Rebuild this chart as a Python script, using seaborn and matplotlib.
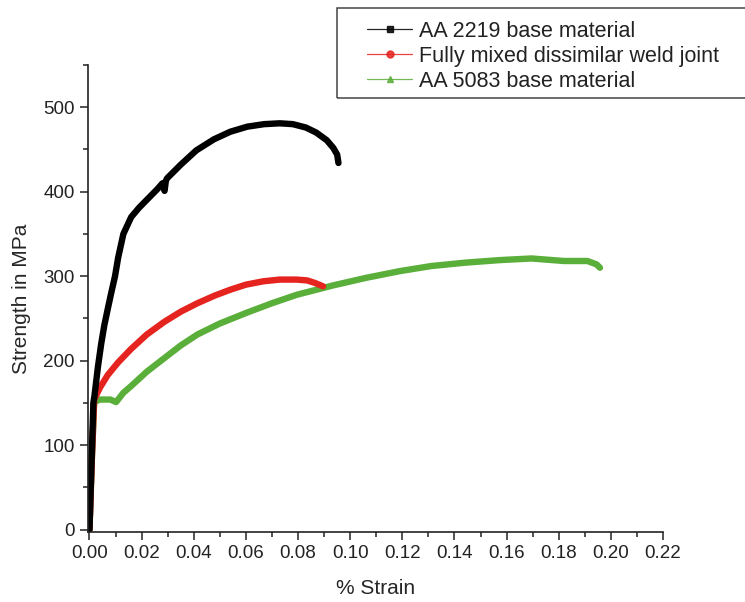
import numpy as np
import pandas as pd
import matplotlib
matplotlib.use("Agg")
import matplotlib.pyplot as plt
from matplotlib.lines import Line2D
from matplotlib.patches import Rectangle
from matplotlib.ticker import MultipleLocator
import seaborn as sns

# ================================
# Data
# ================================

strain_2219 = [0.0, 0.0008, 0.0015, 0.0019, 0.0033, 0.0045, 0.0057, 0.0072, 0.0084, 0.0098,
               0.011, 0.013, 0.016, 0.019, 0.0225, 0.026, 0.028, 0.0288, 0.0293, 0.0298,
               0.035, 0.041, 0.0477, 0.054, 0.0605, 0.067, 0.073, 0.078, 0.083, 0.087,
               0.091, 0.0935, 0.095, 0.0955]
stress_2219 = [0, 80, 150, 158, 194, 220, 242, 264, 281, 300,
               322, 350, 370, 381, 392, 403, 410, 401, 413, 416,
               432, 449, 462, 471, 477, 480, 481, 480, 476, 470,
               461, 452, 444, 434]

strain_weld = [0.0, 0.0008, 0.0018, 0.004, 0.007, 0.011, 0.016, 0.022, 0.0287, 0.035,
               0.0414, 0.048, 0.054, 0.06, 0.0667, 0.073, 0.0795, 0.0835, 0.0865, 0.0896]
stress_weld = [0, 75, 154, 168, 183, 198, 214, 231, 246, 258,
               268, 277, 284, 290, 294, 296, 296, 295, 292, 288]

strain_5083 = [0.0, 0.0008, 0.0018, 0.004, 0.008, 0.0102, 0.0115, 0.013, 0.016, 0.022,
               0.0287, 0.035, 0.0414, 0.05, 0.0605, 0.07, 0.0795, 0.0933, 0.106, 0.119,
               0.131, 0.144, 0.157, 0.1695, 0.182, 0.191, 0.1945, 0.1958]
stress_5083 = [0, 75, 151, 154, 154, 151, 156, 162, 170, 187,
               203, 218, 231, 244, 257, 268, 278, 289, 298, 306,
               312, 316, 319, 321, 318, 318, 314, 310]

labels = ["AA 2219 base material", "Fully mixed dissimilar weld joint", "AA 5083 base material"]
colors = ["#000000", "#e5231f", "#5aae3a"]
markers = ["s", "o", "^"]

# ================================
# Build a long table for seaborn
# ================================

df = pd.concat([
    pd.DataFrame({"strain": strain_2219, "stress": stress_2219, "series": labels[0]}),
    pd.DataFrame({"strain": strain_weld, "stress": stress_weld, "series": labels[1]}),
    pd.DataFrame({"strain": strain_5083, "stress": stress_5083, "series": labels[2]}),
])

sns.set_style("ticks")
plt.rcParams["font.family"] = ["Liberation Sans", "DejaVu Sans"]

fig = plt.figure(figsize=(7.45, 6.02), dpi=100)
ax = fig.add_axes([0.118, 0.116, 0.772, 0.776])

# plot in reverse so black ends up on top
for lab, col in reversed(list(zip(labels, colors))):
    sub = df[df["series"] == lab]
    sns.lineplot(data=sub, x="strain", y="stress", color=col, linewidth=4.6,
                 sort=False, estimator=None, ax=ax, legend=False)

ax.set_xlim(-0.0006, 0.22)
ax.set_ylim(-3, 550)
ax.xaxis.set_minor_locator(MultipleLocator(0.01))
ax.yaxis.set_major_locator(MultipleLocator(100))
ax.yaxis.set_minor_locator(MultipleLocator(50))
xt = np.arange(0, 0.2201, 0.02)
ax.set_xticks(xt)
ax.set_xticklabels([f"{v:.2f}" for v in xt])

ax.tick_params(which="major", direction="out", length=6, width=1.1, labelsize=13.5, colors="#222222")
ax.tick_params(which="minor", direction="out", length=3.5, width=1.1, colors="#222222")
sns.despine(ax=ax)
for s in ["left", "bottom"]:
    ax.spines[s].set_linewidth(1.2)
    ax.spines[s].set_color("#222222")

ax.set_xlabel("% Strain", fontsize=15, labelpad=12)
ax.set_ylabel("Strength in MPa", fontsize=15, labelpad=9)

# legend: thin line with marker, box drawn separately so it runs off the right edge
handles = [Line2D([0], [0], color=c, marker=m, markersize=5, linewidth=0.9, alpha=0.85)
           for c, m in zip(colors, markers)]
leg = fig.legend(handles, labels, loc="upper left", bbox_to_anchor=(367 / 745, 1 - 21 / 602),
                 fontsize=15.5, frameon=False, handlelength=2.1, labelspacing=0.18,
                 borderpad=0, borderaxespad=0, handletextpad=0.3)
for t in leg.get_texts():
    t.set_color("#222222")
fig.patches.append(Rectangle((337 / 745, 1 - 98 / 602), 0.6, 90 / 602, transform=fig.transFigure,
                             fill=False, edgecolor="#444444", linewidth=1.1, clip_on=False))

fig.savefig("out.png", dpi=100)
